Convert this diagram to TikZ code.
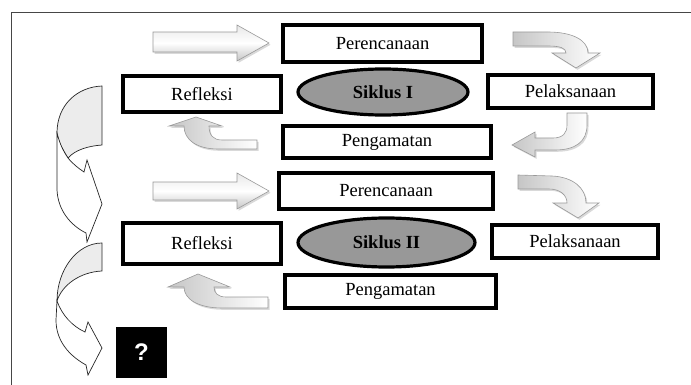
\documentclass[tikz,border=0pt]{standalone}
\usepackage{fontspec}
\setmainfont{Liberation Serif}
\newfontfamily\qfont{Liberation Sans}
\usetikzlibrary{shapes.geometric,shadows}
\definecolor{cyclegray}{RGB}{152,152,152}
\definecolor{framegray}{RGB}{70,70,70}
\begin{document}
\begin{tikzpicture}[x=1pt,y=-1pt,
  stagebox/.style={draw=black, line width=3.2pt, fill=white, inner sep=0pt, font=\fontsize{18.5}{20}\selectfont},
  cyclebox/.style={ellipse, draw=black, line width=3.2pt, fill=cyclegray, inner sep=0pt, font=\fontsize{18.5}{20}\selectfont\bfseries},
  qbox/.style={fill=black, inner sep=0pt, minimum width=51pt, minimum height=51pt, text=white, font=\qfont\bfseries\fontsize{24}{26}\selectfont},
  straightarrow/.style={draw=gray!80, line width=0.6pt, top color=gray!18, bottom color=gray!45, middle color=white, drop shadow={shadow xshift=1.5pt, shadow yshift=-1.8pt, opacity=0.3}},
  bentarrow/.style={draw=gray!80, line width=0.6pt, left color=gray!45, right color=white, drop shadow={shadow xshift=1.5pt, shadow yshift=-1.8pt, opacity=0.3}},
  backpart/.style={draw=black!85, line width=0.7pt, fill=gray!15},
  frontpart/.style={draw=black!85, line width=0.7pt, fill=white}
]
\useasboundingbox (0,0) rectangle (691,385);
% frame
\draw[framegray, line width=0.9pt] (691,12) -- (11,12) -- (11,385);

% cycle I
\node[stagebox, minimum width=199pt, minimum height=37pt] (per1) at (382.5,43.5) {Perencanaan};
\node[stagebox, minimum width=158pt, minimum height=36pt] (ref1) at (202,94) {Refleksi};
\node[cyclebox, minimum width=170pt, minimum height=46pt] (sik1) at (383,92) {Siklus I};
\node[stagebox, minimum width=165pt, minimum height=33pt] (pel1) at (570.5,91.5) {Pelaksanaan};
\node[stagebox, minimum width=208pt, minimum height=32pt] (pen1) at (387,142) {Pengamatan};

% cycle II
\node[stagebox, minimum width=214pt, minimum height=36pt] (per2) at (386,191) {Perencanaan};
\node[stagebox, minimum width=158pt, minimum height=41pt] (ref2) at (202,243.5) {Refleksi};
\node[cyclebox, minimum width=177pt, minimum height=49pt] (sik2) at (386.5,242.5) {Siklus II};
\node[stagebox, minimum width=166pt, minimum height=33pt] (pel2) at (575,241.5) {Pelaksanaan};
\node[stagebox, minimum width=211pt, minimum height=33pt] (pen2) at (390.5,291.5) {Pengamatan};

\node[qbox] (q) at (141.5,352.5) {?};

% straight block arrows
\path[straightarrow] (153,32) -- (237,32) -- (237,25) -- (269,43) -- (237,61) -- (237,52) -- (153,52) -- cycle;
\path[straightarrow] (153,182) -- (237,182) -- (237,173) -- (269,191) -- (237,209) -- (237,200) -- (153,200) -- cycle;

% bent arrows cycle I
\path[bentarrow] (513,32) -- (548,32) .. controls (572,32) and (588,40) .. (588,53) -- (600,53) -- (576,68) -- (552,53) -- (566,53) .. controls (566,48) and (560,46) .. (548,46) -- (513,46) -- cycle;
\path[bentarrow] (567,113) -- (587,113) -- (587,125) .. controls (587,142) and (575,150) .. (555,150) -- (535,150) -- (535,157) -- (512,145) -- (535,132) -- (535,138) -- (553,138) .. controls (563,138) and (567,133) .. (567,125) -- cycle;
\path[bentarrow] (257,140) -- (257,149) -- (218,149) .. controls (197,149) and (184,140) .. (184,126) -- (169,126) -- (196,117) -- (222,126) -- (209,126) .. controls (209,135) and (213,140) .. (222,140) -- cycle;

% bent arrows cycle II
\path[bentarrow] (518,175) -- (552,176) .. controls (573,177) and (586,188) .. (586,203) -- (599,203) -- (578,218) -- (553,203) -- (567,203) .. controls (567,195) and (560,189) .. (549,189) -- (518,189) -- cycle;
\path[bentarrow] (268,297) -- (268,308) -- (222,308) .. controls (198,308) and (184,299) .. (184,287) -- (168,287) -- (198,274) -- (230,287) -- (214,287) .. controls (214,293) and (218,297) .. (226,297) -- cycle;

% left curved arrows
\path[backpart] (102,86) -- (102,145) .. controls (88,146) and (75,150) .. (68,158) .. controls (63,150) and (58,142) .. (57,133) .. controls (57,105) and (77,87) .. (102,86) -- cycle;
\path[frontpart] (57,133) .. controls (60,145) and (64,152) .. (68,158) .. controls (73,164) and (78,168) .. (84,172) -- (87,160) -- (102,204) -- (87,242) -- (86,233) .. controls (70,225) and (58,210) .. (57,190) -- cycle;

\path[backpart] (102,243) -- (102,271) .. controls (80,272) and (62,285) .. (57,301) .. controls (57,270) and (77,243) .. (102,243) -- cycle;
\path[frontpart] (57,301) .. controls (62,315) and (72,326) .. (85,332) -- (88,322) -- (102,348) -- (88,375) -- (86,365) .. controls (68,355) and (56,340) .. (56,320) -- cycle;
\end{tikzpicture}
\end{document}
